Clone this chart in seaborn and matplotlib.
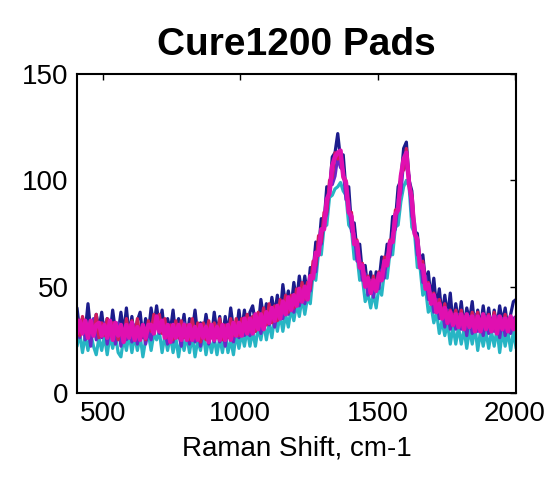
import numpy as np
import pandas as pd
import seaborn as sns
import matplotlib.pyplot as plt

sns.set_style("white")
plt.rcParams['font.family'] = ['Liberation Sans', 'DejaVu Sans']
plt.rcParams['text.color'] = 'black'
plt.rcParams['axes.labelcolor'] = 'black'

# Raman shift grid, cm-1
shift = np.arange(405, 2006, 10)

# spectra (one list per pad)
pad_navy = [40, 29, 35, 29, 42, 29, 27, 37, 30, 38,
            27, 35, 27, 39, 29, 28, 38, 28, 40, 27,
            36, 25, 34, 38, 26, 35, 28, 40, 31, 41,
            31, 39, 27, 35, 29, 39, 26, 35, 28, 37,
            25, 35, 29, 39, 27, 33, 27, 37, 29, 26,
            38, 28, 36, 25, 36, 28, 40, 30, 28, 39,
            29, 39, 28, 38, 41, 33, 31, 44, 35, 42,
            34, 45, 37, 46, 36, 51, 41, 48, 40, 52,
            43, 55, 46, 55, 45, 59, 57, 71, 67, 82,
            80, 97, 95, 111, 113, 122, 110, 112, 95, 97,
            78, 80, 67, 70, 56, 60, 48, 57, 46, 57,
            52, 64, 59, 70, 66, 83, 81, 97, 100, 115,
            118, 100, 95, 76, 75, 61, 65, 52, 57, 44,
            54, 40, 49, 36, 46, 36, 47, 32, 42, 33,
            43, 31, 40, 34, 43, 30, 39, 31, 41, 31,
            40, 29, 39, 31, 41, 33, 40, 30, 37, 43, 44]
pad_cyan = [22, 28, 19, 27, 20, 28, 22, 18, 26, 20,
            27, 18, 27, 21, 27, 19, 17, 26, 20, 28,
            19, 27, 20, 27, 17, 25, 28, 20, 28, 25,
            29, 19, 27, 20, 27, 19, 26, 17, 26, 20,
            27, 19, 27, 17, 25, 20, 28, 18, 26, 19,
            26, 18, 26, 19, 28, 19, 25, 18, 28, 21,
            28, 22, 30, 22, 29, 22, 31, 25, 33, 25,
            33, 26, 36, 29, 37, 29, 37, 31, 40, 34,
            42, 36, 45, 37, 45, 42, 56, 53, 66, 65,
            78, 79, 92, 93, 96, 97, 99, 95, 93, 79,
            77, 63, 65, 53, 54, 43, 47, 40, 47, 40,
            50, 46, 57, 54, 66, 65, 78, 79, 90, 97,
            100, 97, 78, 75, 59, 59, 46, 49, 38, 41,
            33, 38, 28, 34, 27, 33, 23, 31, 23, 31,
            23, 30, 21, 30, 23, 31, 20, 29, 22, 29,
            21, 29, 22, 30, 19, 29, 22, 29, 20, 29, 21]
pad_purple = [34, 26, 34, 25, 31, 22, 35, 25, 31, 26,
              33, 23, 30, 32, 23, 33, 22, 30, 25, 32,
              24, 32, 23, 30, 31, 23, 29, 25, 35, 33,
              28, 33, 29, 23, 32, 24, 32, 28, 22, 33,
              30, 23, 33, 24, 31, 22, 30, 32, 23, 31,
              24, 32, 24, 31, 22, 31, 33, 24, 33, 26,
              33, 27, 33, 27, 36, 29, 36, 28, 35, 38,
              32, 39, 31, 39, 42, 35, 44, 37, 44, 38,
              47, 41, 48, 42, 52, 48, 59, 57, 71, 70,
              81, 84, 98, 98, 102, 111, 106, 105, 91, 90,
              76, 75, 62, 63, 53, 56, 46, 53, 45, 53,
              49, 58, 54, 65, 64, 75, 77, 91, 94, 109,
              106, 102, 83, 80, 65, 64, 52, 55, 44, 47,
              38, 44, 35, 40, 31, 39, 30, 37, 30, 37,
              30, 36, 27, 36, 28, 37, 29, 34, 27, 36,
              28, 35, 29, 36, 26, 35, 27, 35, 28, 35, 36]
pad_red = [35, 27, 36, 30, 26, 34, 28, 37, 26, 33,
           27, 35, 27, 33, 33, 25, 32, 25, 35, 27,
           34, 26, 35, 26, 32, 25, 34, 29, 37, 31,
           37, 28, 35, 26, 32, 25, 34, 26, 34, 26,
           32, 25, 35, 26, 33, 24, 33, 25, 34, 26,
           33, 26, 35, 25, 32, 26, 35, 27, 35, 27,
           35, 29, 37, 29, 36, 29, 38, 32, 40, 32,
           42, 33, 41, 34, 44, 38, 46, 38, 46, 40,
           49, 43, 52, 44, 52, 49, 62, 60, 74, 71,
           85, 85, 100, 101, 113, 110, 114, 101, 100, 85,
           85, 71, 72, 59, 61, 51, 55, 48, 55, 49,
           57, 53, 64, 61, 72, 71, 86, 87, 103, 105,
           115, 98, 93, 75, 73, 60, 62, 49, 52, 43,
           47, 38, 44, 36, 42, 33, 39, 33, 39, 32,
           39, 31, 37, 31, 38, 31, 38, 29, 37, 31,
           37, 29, 38, 30, 36, 30, 37, 30, 36, 30, 36]
pad_magenta = [28, 34, 28, 34, 26, 34, 27, 32, 33, 27,
               32, 26, 34, 25, 33, 27, 32, 24, 32, 26,
               33, 25, 31, 25, 32, 26, 32, 32, 28, 36,
               29, 34, 26, 32, 24, 32, 26, 32, 25, 32,
               25, 32, 25, 31, 25, 32, 26, 31, 24, 32,
               25, 31, 25, 32, 25, 32, 25, 33, 27, 33,
               27, 35, 28, 35, 28, 37, 30, 37, 30, 38,
               33, 40, 34, 41, 35, 43, 37, 45, 39, 46,
               41, 49, 43, 50, 44, 55, 54, 66, 65, 77,
               77, 91, 94, 107, 111, 113, 114, 102, 99, 85,
               83, 70, 71, 59, 60, 50, 54, 47, 53, 48,
               56, 53, 62, 60, 71, 71, 84, 86, 102, 110,
               113, 98, 91, 75, 72, 59, 60, 49, 51, 42,
               46, 38, 42, 35, 40, 33, 38, 32, 37, 31,
               37, 30, 37, 31, 36, 29, 36, 29, 37, 30,
               36, 29, 36, 28, 36, 30, 35, 29, 36, 30, 35]

pads = {"navy": pad_navy, "cyan": pad_cyan, "purple": pad_purple,
        "red": pad_red, "magenta": pad_magenta}
colors = {"navy": "#1c1c8c", "cyan": "#27b5c4", "purple": "#6a28c8",
          "red": "#d01c5c", "magenta": "#e010b0"}

df = pd.concat([pd.DataFrame({"shift": shift, "intensity": v, "pad": k})
                for k, v in pads.items()])

fig = plt.figure(figsize=(5.58, 4.84), dpi=100)
ax = fig.add_axes([0.138, 0.188, 0.787, 0.659])

sns.lineplot(data=df, x="shift", y="intensity", hue="pad", palette=colors,
             linewidth=2.3, legend=False, ax=ax)
# magenta pad sits on top and looks heavier in the original
ax.lines[-1].set_linewidth(3.2)

ax.set_xlim(405, 2005)
ax.set_ylim(0, 150)
ax.set_xticks([500, 1000, 1500, 2000])
ax.set_yticks([0, 50, 100, 150])
ax.tick_params(direction="in", length=4, width=1, top=True, right=True,
               labelsize=20, colors="black", pad=6)
for s in ax.spines.values():
    s.set_color("black")
    s.set_linewidth(1.5)
ax.set_xlabel("Raman Shift, cm-1", fontsize=20, labelpad=6, color="black")
ax.set_ylabel("")
ax.set_title("Cure1200 Pads", fontsize=28, fontweight="bold", pad=14,
             color="black")

fig.savefig("out.png", dpi=100)
